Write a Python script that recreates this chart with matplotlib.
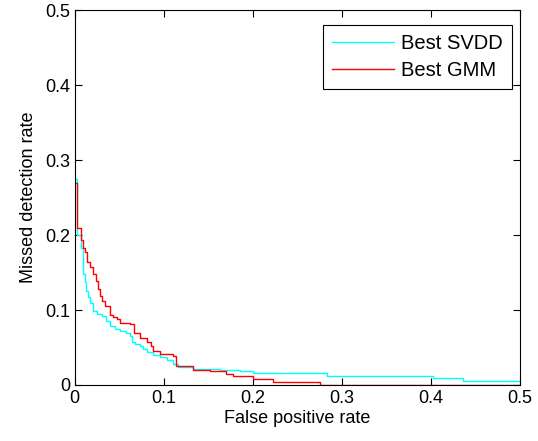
import matplotlib
matplotlib.use("Agg")
import matplotlib.pyplot as plt

# ROC-style curves (false positive rate vs missed detection rate)
svdd_fpr = [0.0, 0.002, 0.0075, 0.0093, 0.011, 0.013, 0.015, 0.017, 0.0206, 0.025,
            0.031, 0.035, 0.039, 0.045, 0.051, 0.057, 0.062, 0.064, 0.068, 0.073,
            0.077, 0.081, 0.088, 0.096, 0.103, 0.110, 0.116, 0.133, 0.163, 0.185,
            0.200, 0.283, 0.402, 0.436, 0.5]
svdd_mdr = [0.275, 0.200, 0.183, 0.148, 0.138, 0.125, 0.117, 0.110, 0.099, 0.095,
            0.092, 0.085, 0.079, 0.075, 0.072, 0.069, 0.066, 0.057, 0.055, 0.052,
            0.048, 0.044, 0.040, 0.037, 0.033, 0.028, 0.024, 0.021, 0.020, 0.018,
            0.016, 0.0115, 0.009, 0.005, 0.005]

gmm_fpr = [0.0, 0.003, 0.0075, 0.0093, 0.012, 0.014, 0.017, 0.020, 0.024, 0.026,
           0.028, 0.031, 0.034, 0.039, 0.043, 0.047, 0.051, 0.062, 0.066, 0.073,
           0.081, 0.085, 0.088, 0.096, 0.110, 0.114, 0.133, 0.152, 0.170, 0.178,
           0.200, 0.222, 0.275, 0.5]
gmm_mdr = [0.270, 0.209, 0.193, 0.183, 0.178, 0.164, 0.158, 0.148, 0.139, 0.128,
           0.119, 0.112, 0.105, 0.094, 0.091, 0.088, 0.083, 0.081, 0.070, 0.063,
           0.057, 0.052, 0.046, 0.041, 0.039, 0.026, 0.020, 0.018, 0.015, 0.012,
           0.008, 0.0035, 0.0, 0.0]

plt.rcParams['font.family'] = ['Liberation Sans', 'DejaVu Sans']

fig = plt.figure(figsize=(5.38, 4.41), dpi=100)
ax = fig.add_axes([0.139, 0.127, 0.828, 0.85])

ax.plot(svdd_fpr, svdd_mdr, color=(0, 1, 1), lw=1.0, drawstyle='steps-post', label='Best SVDD')
ax.plot(gmm_fpr, gmm_mdr, color=(1, 0, 0), lw=1.0, drawstyle='steps-post', label='Best GMM')

ax.set_xlim(0, 0.5)
ax.set_ylim(0, 0.5)
ax.set_xticks([0, 0.1, 0.2, 0.3, 0.4, 0.5])
ax.set_xticklabels(['0', '0.1', '0.2', '0.3', '0.4', '0.5'])
ax.set_yticks([0, 0.1, 0.2, 0.3, 0.4, 0.5])
ax.set_yticklabels(['0', '0.1', '0.2', '0.3', '0.4', '0.5'])
ax.tick_params(direction='in', top=True, right=True, labelsize=13, length=5, width=0.8)
for s in ax.spines.values():
    s.set_linewidth(0.8)

ax.set_xlabel('False positive rate', fontsize=13, labelpad=2)
ax.set_ylabel('Missed detection rate', fontsize=13, labelpad=6)

leg = ax.legend(loc='upper right', bbox_to_anchor=(0.982, 0.96), borderaxespad=0,
                fontsize=14.5, fancybox=False, framealpha=1, edgecolor='black',
                handlelength=3.1, handletextpad=0.35, labelspacing=0.4, borderpad=0.45)
leg.get_frame().set_linewidth(0.8)

fig.savefig('out.png', dpi=100)
